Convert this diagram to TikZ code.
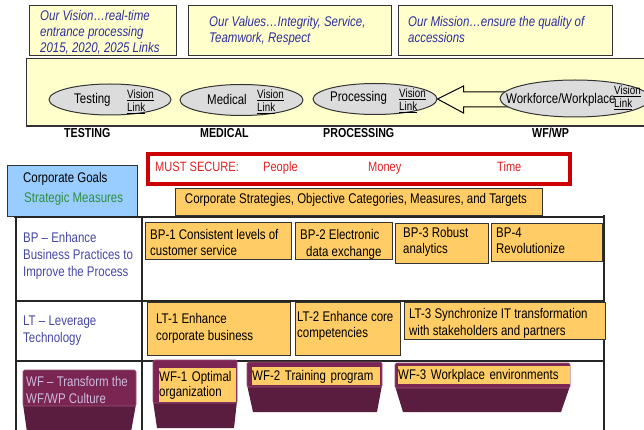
\documentclass[tikz,border=0pt]{standalone}
\usepackage{fontspec}
\setmainfont[FakeStretch=0.82]{Liberation Sans}
\usetikzlibrary{shapes.geometric}

\definecolor{paper}{HTML}{FFFFCC}
\definecolor{edge}{HTML}{333333}
\definecolor{visionblue}{HTML}{2E2E9E}
\definecolor{rowblue}{HTML}{4646A6}
\definecolor{orangebox}{HTML}{FFCC66}
\definecolor{goalblue}{HTML}{99CCFF}
\definecolor{goalgreen}{HTML}{2F8F3F}
\definecolor{alarm}{HTML}{CC0000}
\definecolor{alarmtext}{HTML}{DD2222}
\definecolor{ovalgray}{HTML}{DCDCDC}
\definecolor{plumlight}{HTML}{7B2652}
\definecolor{plumdark}{HTML}{5A1D3F}
\definecolor{lavender}{HTML}{CDBBDF}

\begin{document}
\begin{tikzpicture}[x=1pt,y=-1pt,
  frame/.style={draw=edge, line width=1.2pt, inner sep=0pt, anchor=north west},
  notebox/.style={frame, fill=paper},
  goalbox/.style={frame, fill=orangebox},
  oval/.style={ellipse, draw=edge, line width=1pt, fill=ovalgray, inner sep=0pt},
  % multi-line texts without a fixed width are placed by the baseline of their last line
  txt/.style={inner sep=0pt, anchor=base west, align=left, font=\fontsize{14}{16.5}\selectfont},
  visiontxt/.style={txt, text=visionblue, font=\fontsize{14}{16.3}\selectfont\itshape},
  rowtxt/.style={txt, text=rowblue},
  linktxt/.style={txt, font=\fontsize{12}{13}\selectfont},
  cattxt/.style={txt, font=\fontsize{13}{15}\selectfont\bfseries},
  securetxt/.style={txt, text=alarmtext, font=\fontsize{13.5}{15}\selectfont},
  hilite/.style={txt, fill=orangebox, inner ysep=2.5pt, font=\fontsize{14}{15.5}\selectfont},
  grid/.style={draw=black!85, line width=1.2pt},
  blockarrow/.style={draw=black, line width=1pt, fill=paper, line join=miter},
  plumtop/.style={fill=plumlight, draw=plumlight!80!white, line width=0.6pt, rounded corners=1.5pt},
  plumbase/.style={fill=plumdark}
]
\useasboundingbox (0,0) rectangle (644,430);

% --- vision / values / mission banners
\node[notebox, minimum width=147pt, minimum height=50pt] (vision) at (29,5) {};
\node[visiontxt] (visiontext) at (40,53) {Our Vision…real-time\\entrance processing\\2015, 2020, 2025 Links};
\node[notebox, minimum width=203pt, minimum height=50pt] (values) at (188,5) {};
\node[visiontxt] (valuestext) at (209,43) {Our Values…Integrity, Service,\\Teamwork, Respect};
\node[notebox, minimum width=214pt, minimum height=50pt] (mission) at (398,5) {};
\node[visiontxt] (missiontext) at (408,43) {Our Mission…ensure the quality of\\accessions};

% --- process band
\node[notebox, minimum width=640pt, minimum height=67pt] (band) at (26,58) {};
\draw[edge, line width=2pt] (band.south west) -- (band.south east);

\node[oval, minimum width=122pt, minimum height=31pt] (test) at (110,99.5) {};
\node[oval, minimum width=123pt, minimum height=31pt] (med) at (241.5,100) {};
\node[oval, minimum width=124pt, minimum height=31pt] (proc) at (375,99) {};
% hollow arrow from workforce back to processing (its tail end is hidden by the oval)
\draw[blockarrow] (proc.east) -- ++(26,-13) -- ++(0,6) -- ++(48,0) -- ++(0,15)
  -- ++(-48,0) -- ++(0,6) -- cycle;
\node[oval, minimum width=150pt, minimum height=37pt] (wfe) at (575,98.5) {};

\node[txt] (testname) at (74,104) {Testing};
\node[linktxt] (testlink) at (127,111.5) {\underline{Vision}\\\underline{Link}};
\node[txt] (medname) at (207,104.5) {Medical};
\node[linktxt] (medlink) at (257,111.5) {\underline{Vision}\\\underline{Link}};
\node[txt] (procname) at (330,101.5) {Processing};
\node[linktxt] (proclink) at (399,111) {\underline{Vision}\\\underline{Link}};
\node[txt] (wfename) at (506,104) {Workforce/Workplace};
\node[linktxt] (wfelink) at (614,108) {\underline{Vision}\\\underline{Link}};

\node[cattxt] (cattest) at (64,138) {TESTING};
\node[cattxt] (catmed) at (200,138) {MEDICAL};
\node[cattxt] (catproc) at (323,138) {PROCESSING};
\node[cattxt] (catwf) at (532,138) {WF/WP};

% --- goals header
\node[frame, fill=goalblue, minimum width=130pt, minimum height=51pt] (goals) at (7,165) {};
\node[txt] (goalstext) at (23,183) {Corporate Goals};
\node[txt, text=goalgreen] (measures) at (24,203) {Strategic Measures};

\node[draw=alarm, line width=4pt, inner sep=0pt, anchor=north west,
      minimum width=422pt, minimum height=30pt] (secure) at (146,152) {};
\node[securetxt] (securelbl) at (155,172) {MUST SECURE:};
\node[securetxt] (people) at (263,172) {People};
\node[securetxt] (money) at (368,172) {Money};
\node[securetxt] (time) at (497,172) {Time};

\node[goalbox, minimum width=367pt, minimum height=27pt] (strategies) at (175,188) {};
\node[txt, anchor=base] (strattext) at (356,204) {Corporate Strategies, Objective Categories, Measures, and Targets};

% --- table grid
\draw[grid] (14,217) -- (604,217);
\draw[grid] (15,301) -- (604,301);
\draw[grid] (15,361) -- (604,361);
\draw[grid] (16,217) -- (16,430);
\draw[grid] (142,217) -- (142,430);
\draw[grid] (604,215) -- (604,430);

% --- row labels
\node[rowtxt, font=\fontsize{14}{17}\selectfont] (bprow) at (23,276) {BP – Enhance\\Business Practices to\\Improve the Process};
\node[rowtxt] (ltrow) at (23,342) {LT – Leverage\\Technology};

% --- BP objectives
\node[goalbox, minimum width=146pt, minimum height=37pt] (bp1) at (145,222) {};
\node[txt, font=\fontsize{14}{16}\selectfont] (bp1t) at (150,255) {BP-1 Consistent levels of\\customer service};
\node[goalbox, minimum width=97pt, minimum height=37pt] (bp2) at (295,222) {};
\node[txt] (bp2a) at (300,239) {BP-2 Electronic};
\node[txt] (bp2b) at (306,256) {data exchange};
\node[goalbox, minimum width=93pt, minimum height=40pt] (bp3) at (395,223) {};
\node[txt, font=\fontsize{14}{16}\selectfont] (bp3t) at (403,253) {BP-3 Robust\\analytics};
\node[goalbox, minimum width=111pt, minimum height=38pt] (bp4) at (491,223) {};
\node[txt, font=\fontsize{14}{16}\selectfont] (bp4t) at (496,253) {BP-4\\Revolutionize};

% --- LT objectives
\node[goalbox, minimum width=143pt, minimum height=53pt] (lt1) at (147,302) {};
\node[txt, font=\fontsize{14}{17}\selectfont] (lt1t) at (156,340) {LT-1 Enhance\\corporate business};
\node[goalbox, minimum width=105pt, minimum height=53pt] (lt2) at (295,302) {};
\node[txt, font=\fontsize{14}{16}\selectfont] (lt2t) at (297,337) {LT-2 Enhance core\\competencies};
\node[goalbox, minimum width=201pt, minimum height=37pt] (lt3) at (404,302) {};
\node[txt, font=\fontsize{14}{17}\selectfont] (lt3t) at (409,335) {LT-3 Synchronize IT transformation\\with stakeholders and partners};

% --- WF row blocks
\fill[plumbase] (23,404) -- (136,404) -- (131,432) -- (27,432) -- cycle;
\path[plumtop] (23,370) rectangle (136,406);
\node[txt, text=lavender] (wfrow) at (26,403) {WF – Transform the\\WF/WP Culture};

\fill[plumbase] (153,401) -- (237,401) -- (234,428) -- (157,428) -- cycle;
\path[plumtop] (153,360) rectangle (237,403);
% fixed-width highlights are placed by the baseline of their first line
\node[hilite, text width=77pt] (wf1) at (159,381) {WF-1 Optimal\\organization};

\fill[plumbase] (247,385) -- (382,385) -- (377,412) -- (253,412) -- cycle;
\path[plumtop] (247,362) rectangle (382,387);
\node[hilite, text width=128pt] (wf2) at (252,380) {WF-2 Training program};

\fill[plumbase] (395,386) -- (570,386) -- (561,412) -- (403,412) -- cycle;
\path[plumtop] (395,363) rectangle (570,388);
\node[hilite, text width=172pt] (wf3) at (398,379) {WF-3 Workplace environments};
\end{tikzpicture}
\end{document}
